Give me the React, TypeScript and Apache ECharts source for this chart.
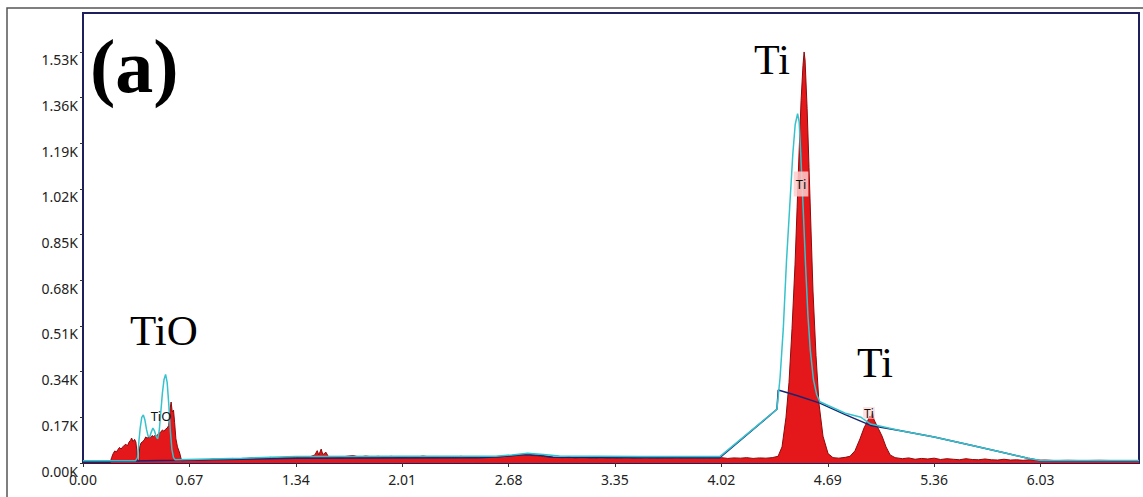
import React, { useEffect, useRef } from "react";
import * as echarts from "echarts";

// Energy (keV) ticks and count (K) ticks
const xTickStep = 0.67;
const yTickStep = 0.17;
const xMax = 6.65;
const yMax = 1.675;

// Measured spectrum (red), [keV, counts in K]
const measured: [number, number][] = [
  [0, 0], [0.17, 0],
  [0.18, 0.02], [0.19, 0.035], [0.2, 0.045], [0.21, 0.041], [0.22, 0.05], [0.23, 0.058], [0.24, 0.052],
  [0.25, 0.06], [0.26, 0.066], [0.27, 0.07], [0.28, 0.064], [0.29, 0.078], [0.3, 0.085], [0.306, 0.093],
  [0.315, 0.08], [0.325, 0.088], [0.333, 0.078], [0.34, 0.04], [0.345, 0.006], [0.352, 0.005],
  [0.357, 0.06], [0.365, 0.074], [0.375, 0.08], [0.385, 0.085], [0.395, 0.097], [0.405, 0.092],
  [0.415, 0.1], [0.425, 0.095], [0.435, 0.102], [0.445, 0.098], [0.455, 0.104], [0.465, 0.1],
  [0.475, 0.11], [0.49, 0.115], [0.5, 0.123], [0.51, 0.118], [0.52, 0.126], [0.53, 0.13], [0.54, 0.14],
  [0.548, 0.2], [0.555, 0.227], [0.562, 0.19], [0.57, 0.197], [0.577, 0.15], [0.585, 0.09],
  [0.595, 0.06], [0.609, 0.037], [0.621, 0.008],
  [0.66, 0.01], [0.7, 0.013], [0.74, 0.011], [0.78, 0.012], [0.82, 0.015], [0.86, 0.013], [0.9, 0.014],
  [0.94, 0.017], [0.98, 0.015], [1.02, 0.016], [1.06, 0.019], [1.1, 0.017], [1.14, 0.018], [1.18, 0.021],
  [1.22, 0.019], [1.26, 0.02], [1.3, 0.023], [1.34, 0.02], [1.38, 0.022], [1.42, 0.021], [1.46, 0.03],
  [1.475, 0.046], [1.485, 0.03], [1.5, 0.052], [1.51, 0.031], [1.53, 0.04], [1.545, 0.024],
  [1.58, 0.024], [1.62, 0.021], [1.66, 0.025], [1.7, 0.028], [1.74, 0.022], [1.78, 0.026], [1.82, 0.023],
  [1.86, 0.025], [1.9, 0.021], [1.94, 0.025], [1.98, 0.022], [2.02, 0.021], [2.06, 0.024], [2.1, 0.022],
  [2.14, 0.026], [2.18, 0.023], [2.22, 0.021], [2.26, 0.024], [2.3, 0.023], [2.34, 0.02], [2.38, 0.025],
  [2.42, 0.022], [2.46, 0.021], [2.5, 0.024], [2.54, 0.022], [2.58, 0.023], [2.62, 0.022], [2.66, 0.025],
  [2.7, 0.027], [2.74, 0.029], [2.78, 0.031], [2.82, 0.028], [2.86, 0.027], [2.9, 0.024], [2.94, 0.022],
  [2.98, 0.021], [3.02, 0.02], [3.06, 0.022], [3.1, 0.019], [3.14, 0.021], [3.18, 0.02], [3.22, 0.018],
  [3.26, 0.021], [3.3, 0.019], [3.34, 0.02], [3.38, 0.018], [3.42, 0.022], [3.46, 0.019], [3.5, 0.018],
  [3.54, 0.021], [3.58, 0.019], [3.62, 0.017], [3.66, 0.02], [3.7, 0.019], [3.74, 0.021], [3.78, 0.018],
  [3.82, 0.019], [3.86, 0.02], [3.9, 0.017], [3.94, 0.019], [3.98, 0.018], [4.02, 0.02], [4.06, 0.017],
  [4.1, 0.019], [4.14, 0.018], [4.18, 0.02], [4.22, 0.017], [4.26, 0.019], [4.3, 0.018], [4.34, 0.02],
  [4.377, 0.025], [4.402, 0.06], [4.427, 0.17], [4.446, 0.3], [4.465, 0.5], [4.484, 0.74], [4.497, 0.95],
  [4.509, 1.15], [4.522, 1.35], [4.534, 1.48], [4.541, 1.53], [4.547, 1.5], [4.56, 1.32], [4.572, 1.1],
  [4.585, 0.86], [4.597, 0.64], [4.616, 0.4], [4.635, 0.22], [4.66, 0.1], [4.692, 0.035], [4.723, 0.02],
  [4.76, 0.018], [4.8, 0.021],
  [4.83, 0.025], [4.861, 0.045], [4.893, 0.09], [4.918, 0.13], [4.944, 0.16], [4.955, 0.175],
  [4.963, 0.17], [4.972, 0.186], [4.982, 0.16], [5.007, 0.13], [5.032, 0.1], [5.057, 0.06],
  [5.083, 0.03], [5.114, 0.02],
  [5.16, 0.016], [5.2, 0.019], [5.24, 0.014], [5.28, 0.017], [5.32, 0.015], [5.36, 0.018], [5.4, 0.013],
  [5.44, 0.016], [5.48, 0.014], [5.52, 0.012], [5.56, 0.016], [5.6, 0.013], [5.64, 0.012], [5.68, 0.015],
  [5.72, 0.012], [5.76, 0.011], [5.8, 0.014], [5.84, 0.011], [5.88, 0.012], [5.92, 0.01], [5.96, 0.012],
  [6.0, 0.01], [6.06, 0.011], [6.12, 0.009], [6.2, 0.01], [6.3, 0.009], [6.4, 0.01], [6.5, 0.009],
  [6.65, 0.009],
];

// Fitted spectrum (cyan)
const fitted: [number, number][] = [
  [0, 0.008], [0.33, 0.008], [0.344, 0.02], [0.352, 0.08], [0.36, 0.13], [0.37, 0.17], [0.38, 0.179],
  [0.39, 0.16], [0.4, 0.125], [0.41, 0.1], [0.42, 0.097], [0.43, 0.115], [0.44, 0.13], [0.45, 0.12],
  [0.46, 0.1], [0.47, 0.09], [0.48, 0.12], [0.49, 0.19], [0.5, 0.26], [0.51, 0.31], [0.52, 0.33],
  [0.53, 0.3], [0.54, 0.22], [0.55, 0.12], [0.56, 0.05], [0.57, 0.02], [0.58, 0.012], [1.0, 0.018],
  [1.34, 0.024], [2.0, 0.025], [2.6, 0.025], [2.7, 0.03], [2.8, 0.036], [2.9, 0.032], [3.0, 0.026],
  [3.5, 0.024], [4.01, 0.024], [4.37, 0.2], [4.39, 0.32], [4.41, 0.5], [4.43, 0.75], [4.45, 0.95],
  [4.47, 1.15], [4.485, 1.26], [4.5, 1.3], [4.51, 1.27], [4.52, 1.15], [4.535, 0.95], [4.55, 0.74],
  [4.565, 0.55], [4.58, 0.42], [4.6, 0.31], [4.62, 0.255], [4.64, 0.228], [4.8, 0.185], [4.9, 0.17],
  [4.96, 0.145], [5.15, 0.12], [5.36, 0.097], [5.6, 0.065], [5.78, 0.041], [5.95, 0.018],
  [6.03, 0.009], [6.65, 0.009],
];

// Background (navy)
const background: [number, number][] = [
  [0, 0.005], [0.6, 0.01], [1.34, 0.018], [2.5, 0.02], [2.68, 0.026], [2.78, 0.032], [2.88, 0.029],
  [2.96, 0.021], [3.5, 0.02], [4.01, 0.02], [4.37, 0.2], [4.378, 0.272], [4.5, 0.25], [4.64, 0.223],
  [4.8, 0.18], [4.96, 0.14], [5.15, 0.12], [5.36, 0.097], [5.6, 0.065], [5.78, 0.041], [5.95, 0.018],
  [6.03, 0.008], [6.65, 0.008],
];

const frameColor = "#1f1f5c";
const labelFont = "Noto Sans";

export default function App() {
  const ref = useRef<HTMLDivElement>(null);
  useEffect(() => {
    if (!ref.current) return;
    const chart = echarts.init(ref.current, null, { renderer: "svg" });
    chart.setOption({
      animation: false,
      backgroundColor: "#ffffff",
      grid: {
        left: 83,
        top: 13,
        right: 4,
        bottom: 34,
        show: true,
        borderColor: frameColor,
        borderWidth: 2,
      },
      xAxis: {
        type: "value",
        min: 0,
        max: xMax,
        interval: xTickStep,
        axisLine: { show: true, lineStyle: { color: frameColor, width: 2 } },
        axisTick: { show: true, length: 4, lineStyle: { color: "#333" } },
        splitLine: { show: false },
        axisLabel: {
          showMaxLabel: false,
          color: "#222",
          fontSize: 14,
          fontFamily: labelFont,
          margin: 9,
          formatter: (v: number) => v.toFixed(2),
        },
      },
      yAxis: {
        type: "value",
        min: 0,
        max: yMax,
        interval: yTickStep,
        axisLine: { show: true, lineStyle: { color: frameColor, width: 2 } },
        axisTick: { show: true, length: 3, lineStyle: { color: "#333" } },
        splitLine: { show: false },
        axisLabel: {
          showMaxLabel: false,
          color: "#222",
          fontSize: 14,
          fontFamily: labelFont,
          margin: 5,
          verticalAlign: "top",
          padding: [1, 0, 0, 0],
          formatter: (v: number) => v.toFixed(2) + "K",
        },
      },
      series: [
        {
          type: "line",
          data: measured,
          showSymbol: false,
          symbol: "none",
          lineStyle: { color: "#8c0a0a", width: 1 },
          areaStyle: { color: "#e4171b", opacity: 1 },
          z: 2,
        },
        {
          type: "line",
          data: background,
          showSymbol: false,
          symbol: "none",
          lineStyle: { color: "#1b2470", width: 1.5 },
          z: 3,
        },
        {
          type: "line",
          data: fitted,
          showSymbol: false,
          symbol: "none",
          lineStyle: { color: "#35c2cc", width: 1.5 },
          z: 4,
        },
      ],
      graphic: [
        {
          type: "rect",
          shape: { x: 7, y: 8, width: 1300, height: 700 },
          style: { fill: "none", stroke: "#555", lineWidth: 1.5 },
          silent: true,
          z: 0,
        },
        {
          type: "text",
          x: 90,
          y: 66,
          style: {
            text: "(a)",
            font: 'bold 76px "Liberation Serif"',
            fill: "#000",
            verticalAlign: "middle",
          },
          z: 100,
        },
        {
          type: "text",
          x: 754,
          y: 60,
          style: { text: "Ti", font: '42px "Liberation Serif"', fill: "#000", verticalAlign: "middle" },
          z: 100,
        },
        {
          type: "text",
          x: 130,
          y: 330,
          style: { text: "TiO", font: '43px "Liberation Serif"', fill: "#000", verticalAlign: "middle" },
          z: 100,
        },
        {
          type: "text",
          x: 857,
          y: 363,
          style: { text: "Ti", font: '42px "Liberation Serif"', fill: "#000", verticalAlign: "middle" },
          z: 100,
        },
        {
          type: "text",
          x: 161,
          y: 416,
          style: {
            text: "TiO",
            font: '13px "Noto Sans"',
            fill: "#111",
            align: "center",
            verticalAlign: "middle",
          },
          z: 100,
        },
        {
          type: "text",
          x: 801,
          y: 184,
          style: {
            text: "Ti",
            font: '13px "Noto Sans"',
            fill: "#111",
            align: "center",
            verticalAlign: "middle",
            backgroundColor: "rgba(255,205,205,0.85)",
            padding: [6, 2],
          },
          z: 100,
        },
        {
          type: "text",
          x: 869,
          y: 413,
          style: {
            text: "Ti",
            font: '12px "Noto Sans"',
            fill: "#111",
            align: "center",
            verticalAlign: "middle",
            backgroundColor: "rgba(255,205,205,0.6)",
            padding: [0, 1],
          },
          z: 100,
        },
      ],
    });
    return () => chart.dispose();
  }, []);
  return (
    <div
      ref={ref}
      style={{ position: "absolute", left: 0, top: 0, width: 1143, height: 497, background: "#fff" }}
    />
  );
}
